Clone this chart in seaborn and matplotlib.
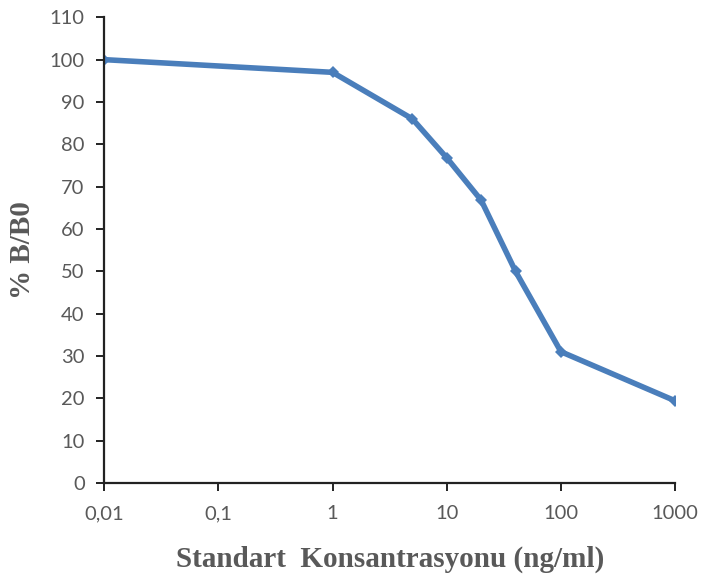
import pandas as pd
import matplotlib
matplotlib.use("Agg")
import matplotlib.pyplot as plt
import matplotlib.ticker as mticker
import seaborn as sns

# Standard curve readings
konsantrasyon = [0.01, 1, 5, 10, 20, 40, 100, 1000]
b_b0 = [100, 97, 86, 76.8, 66.8, 50, 31, 19.4]
x_ticks = [0.01, 0.1, 1, 10, 100, 1000]
x_tick_labels = ["0,01", "0,1", "1", "10", "100", "1000"]
y_ticks = list(range(0, 111, 10))

df = pd.DataFrame({"konsantrasyon": konsantrasyon, "b_b0": b_b0})

sns.set_style("white")
plt.rcParams['font.family'] = ['Lato', 'DejaVu Sans']

fig = plt.figure(figsize=(7.04, 5.77), dpi=100)
ax = fig.add_axes([0.148, 0.163, 0.811, 0.807])

sns.lineplot(data=df, x="konsantrasyon", y="b_b0", ax=ax, color="#4a7ebb",
             linewidth=4, marker="D", markersize=6.5, markeredgewidth=0)

ax.set_xscale("log")
ax.set_xlim(0.01, 1000)
ax.set_ylim(0, 110)
ax.set_xticks(x_ticks)
ax.set_xticklabels(x_tick_labels)
ax.xaxis.set_minor_locator(mticker.NullLocator())
ax.set_yticks(y_ticks)

for side in ["top", "right"]:
    ax.spines[side].set_visible(False)
for side in ["left", "bottom"]:
    ax.spines[side].set_color("#222222")
    ax.spines[side].set_linewidth(1.6)

ax.tick_params(axis="both", direction="out", length=6, width=1.4, color="#222222",
               labelsize=14.5, labelcolor="#595959", left=True, bottom=True)
ax.tick_params(axis="x", pad=10)
ax.tick_params(axis="y", pad=8)

ax.set_xlabel("Standart  Konsantrasyonu (ng/ml)", family="Liberation Serif",
              fontweight="bold", fontsize=21, color="#595959", labelpad=17)
ax.set_ylabel("% B/B0", family="Liberation Serif", fontweight="bold",
              fontsize=21, color="#595959", labelpad=10)

ax.grid(False)
fig.savefig("out.png", dpi=100)
plt.close(fig)
